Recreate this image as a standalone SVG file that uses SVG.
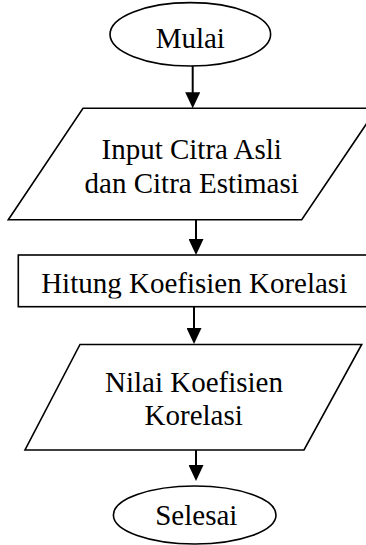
<svg xmlns="http://www.w3.org/2000/svg" width="366" height="545" viewBox="0 0 366 545">
  <style>
    .shape { fill: #ffffff; stroke: #000000; stroke-width: 1.6; }
    .label { font-family: "Liberation Serif", "Times New Roman", serif; font-size: 29px; fill: #000000; text-anchor: middle; }
    .conn { stroke: #000000; stroke-width: 2; fill: none; marker-end: url(#head); }
  </style>
  <defs>
    <marker id="head" viewBox="0 0 16 15" markerWidth="16" markerHeight="15" refX="6" refY="7.5" orient="auto" markerUnits="userSpaceOnUse">
      <path d="M0,0 L16,7.5 L0,15 z" fill="#000000"/>
    </marker>
    <clipPath id="boxClip">
      <rect x="19" y="256" width="360" height="42.5"/>
    </clipPath>
  </defs>

  <rect width="366" height="545" fill="#ffffff"/>

  <!-- connectors -->
  <g id="connectors">
    <line class="conn" x1="192.7" y1="66" x2="192.7" y2="98.3"/>
    <line class="conn" x1="196" y1="219.8" x2="196" y2="245"/>
    <line class="conn" x1="194" y1="306.7" x2="194" y2="334"/>
    <line class="conn" x1="196" y1="450" x2="196" y2="471"/>
  </g>

  <g id="start">
    <ellipse class="shape" cx="190.3" cy="34.3" rx="80.3" ry="31.7"/>
    <text class="label" x="190.3" y="47.7">Mulai</text>
  </g>

  <g id="input">
    <polygon class="shape" points="83,108.3 376.9,108.3 301.7,219.8 8.3,219.8"/>
    <text class="label" x="191.7" y="159.3">Input Citra Asli</text>
    <text class="label" x="191.7" y="193.3">dan Citra Estimasi</text>
  </g>

  <g id="process">
    <rect class="shape" x="18.3" y="255" width="360" height="51.7"/>
    <text class="label" x="194.2" y="293.3" clip-path="url(#boxClip)">Hitung Koefisien Korelasi</text>
  </g>

  <g id="output">
    <polygon class="shape" points="80,344.5 361.7,344.5 304,450 25,450"/>
    <text class="label" x="194" y="391.7">Nilai Koefisien</text>
    <text class="label" x="193.7" y="425">Korelasi</text>
  </g>

  <g id="end">
    <ellipse class="shape" cx="194.7" cy="515" rx="81.3" ry="29"/>
    <text class="label" x="196.3" y="525">Selesai</text>
  </g>
</svg>
